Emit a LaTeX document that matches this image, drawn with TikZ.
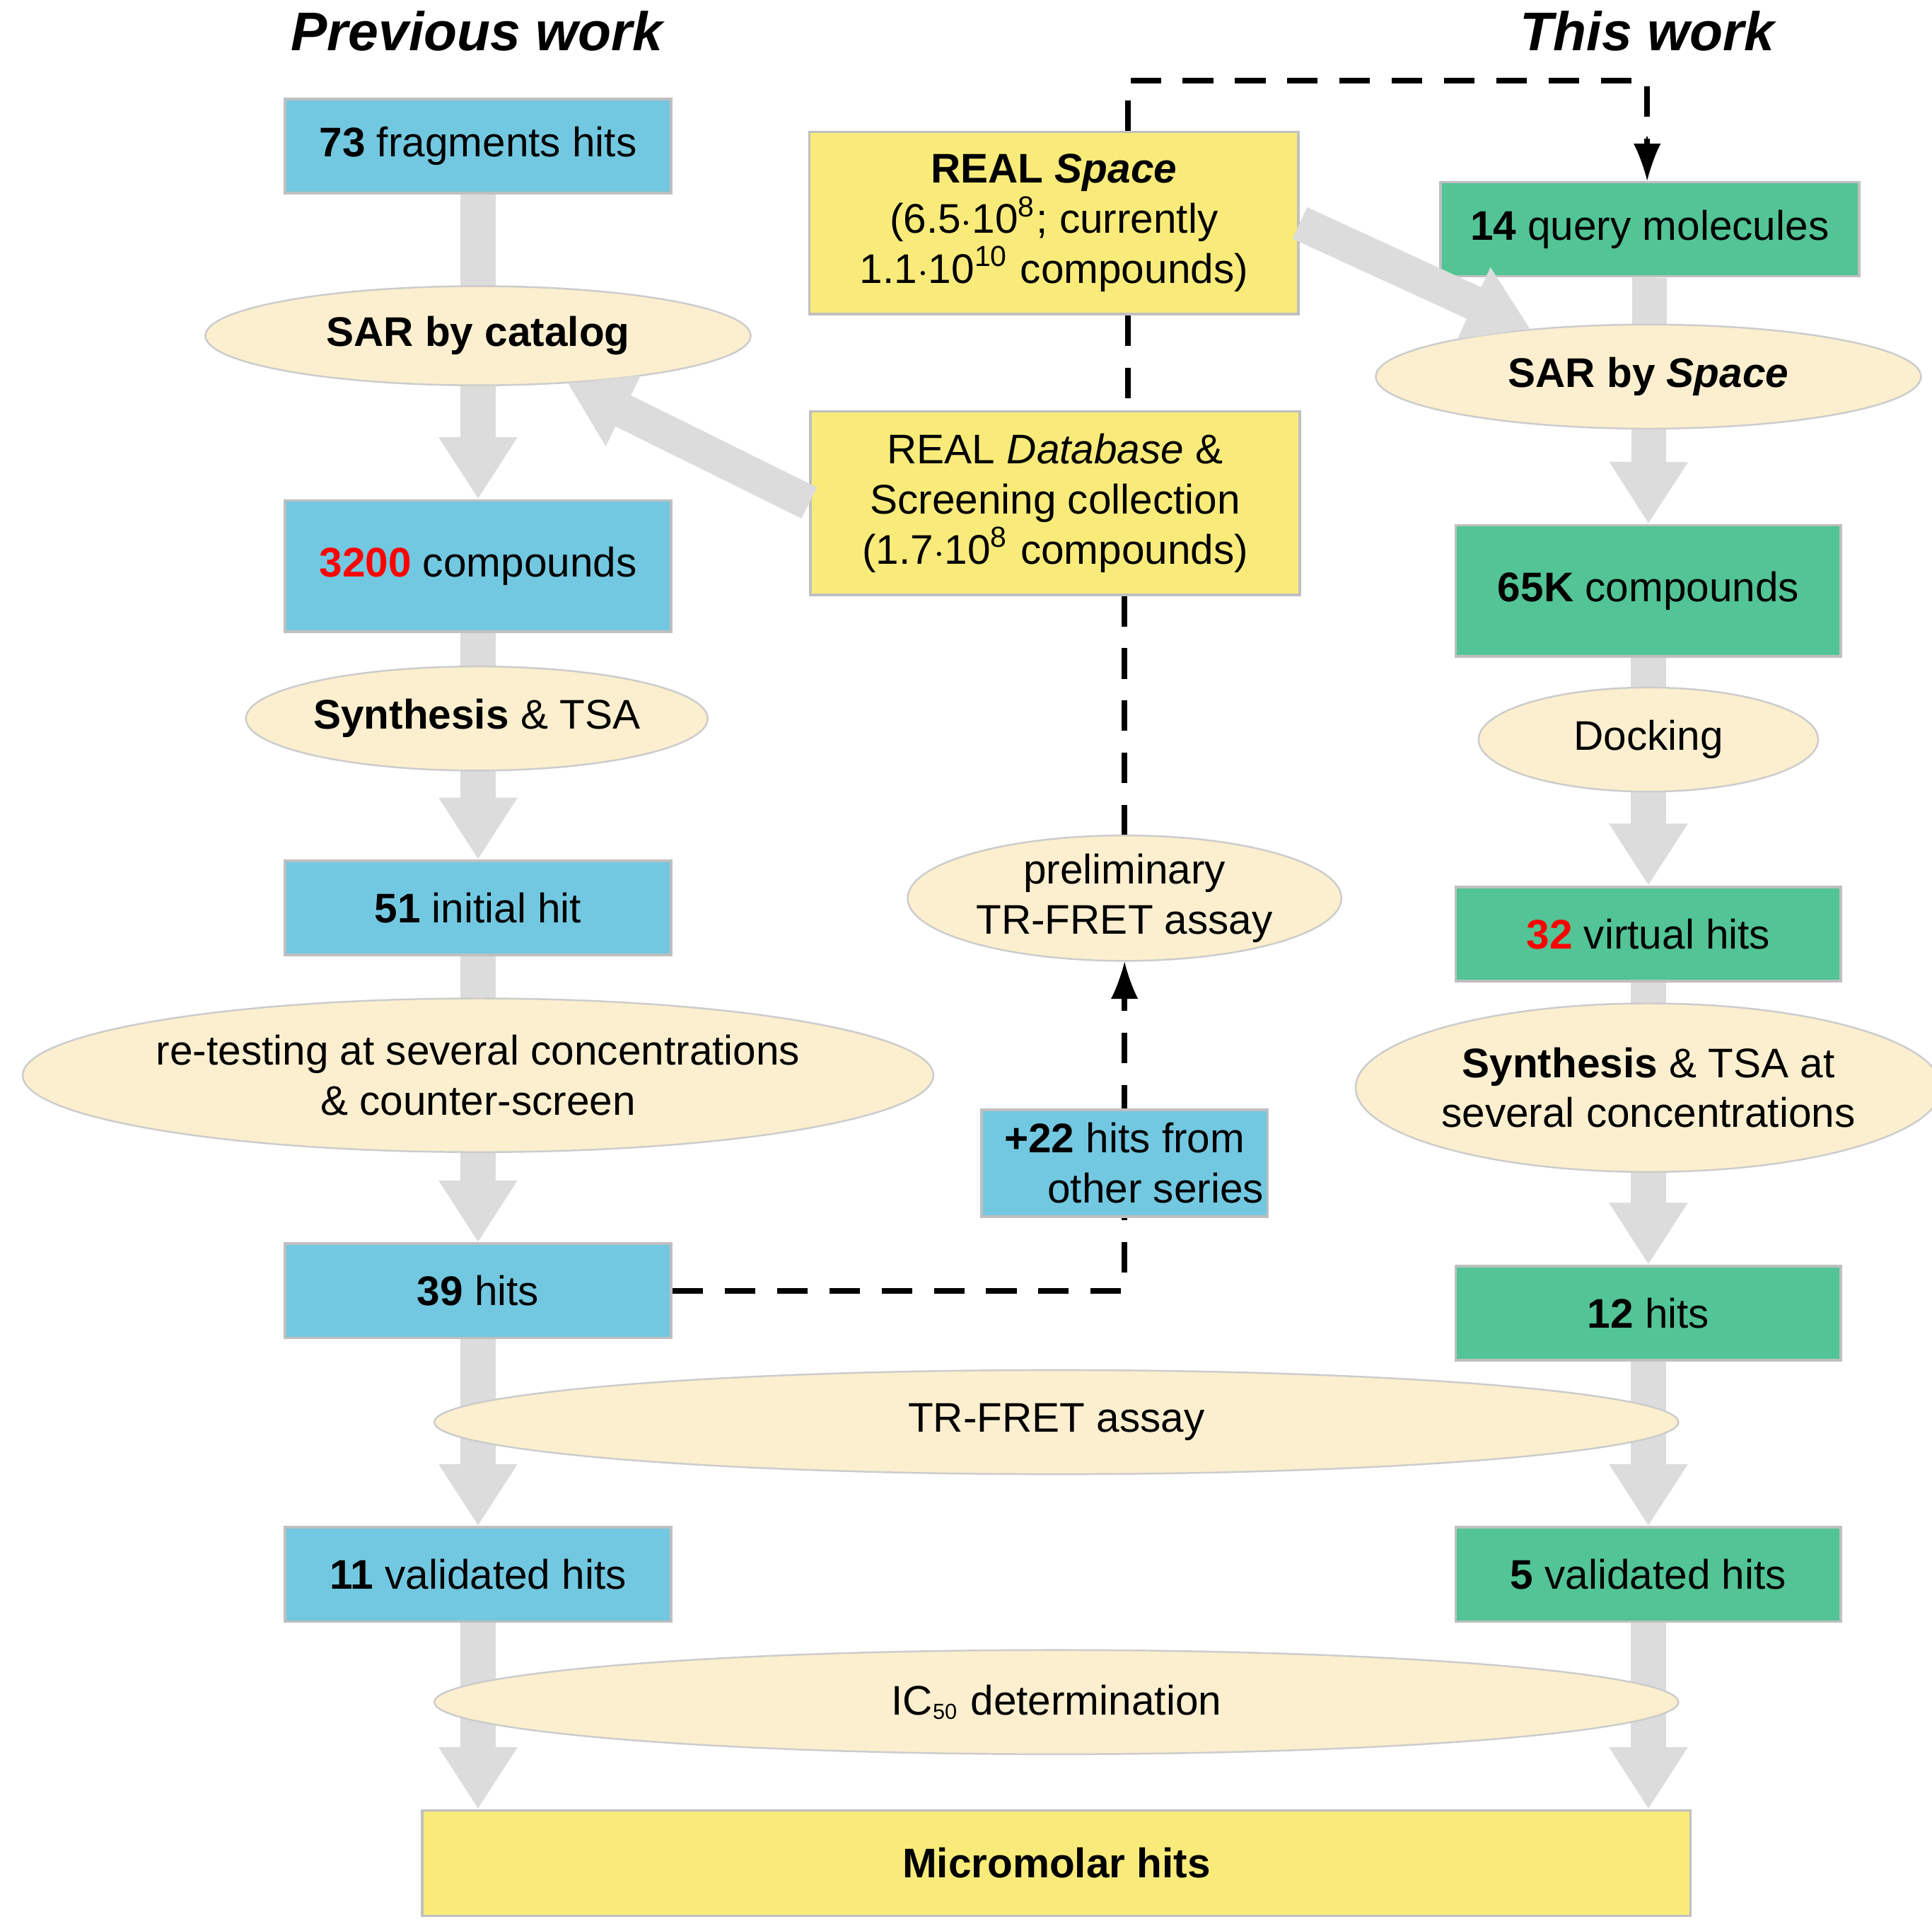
\documentclass[tikz,border=0pt]{standalone}
\usepackage{fontspec}
\setmainfont{Liberation Sans}
\usetikzlibrary{arrows.meta,shapes.geometric}
\definecolor{cblue}{HTML}{72C8E0}
\definecolor{cgreen}{HTML}{52C495}
\definecolor{cyel}{HTML}{F8EB7A}
\definecolor{cell}{HTML}{FCEFCF}
\definecolor{carr}{HTML}{DCDCDC}
\begin{document}
\begin{tikzpicture}[x=0.01cm,y=-0.01cm,
 box/.style={draw=black!25,line width=0.6pt,minimum width=#1*0.01cm,inner sep=0pt,align=center,font=\fontsize{9.5}{11.5}\selectfont},
 bb/.style={box=312,fill=cblue,minimum height=0.76cm},
 gb/.style={box=311,fill=cgreen,minimum height=0.76cm},
 el/.style={ellipse,draw=black!20,fill=cell,inner sep=0pt,align=center,font=\fontsize{9.5}{11.5}\selectfont},
 ga/.style={draw=carr,line width=0.28cm,-{Triangle[width=0.6cm,length=0.5cm]}},
 da/.style={draw=black,line width=1.3pt,dash pattern=on 7pt off 5pt}]
\useasboundingbox (0,0) rectangle (1560,1553);
\node[font=\fontsize{12.5}{14}\selectfont\bfseries\itshape] (hp) at (385,25) {Previous work};
\node[font=\fontsize{12.5}{14}\selectfont\bfseries\itshape] (ht) at (1330,25) {This work};
% left boxes
\node[bb] (l1) at (386,118) {\textbf{73} fragments hits};
\node[bb,minimum height=1.06cm] (l2) at (386,457) {\textcolor{red}{\textbf{3200}} compounds};
\node[bb] (l3) at (386,733) {\textbf{51} initial hit};
\node[bb] (l4) at (386,1042) {\textbf{39} hits};
\node[bb] (l5) at (386,1271) {\textbf{11} validated hits};
% right boxes
\node[box=338,fill=cgreen,minimum height=0.76cm] (r1) at (1332,185) {\textbf{14} query molecules};
\node[gb,minimum height=1.06cm] (r2) at (1331,477) {\textbf{65K} compounds};
\node[gb] (r3) at (1331,754) {\textcolor{red}{\textbf{32}} virtual hits};
\node[gb] (r4) at (1331,1060) {\textbf{12} hits};
\node[gb] (r5) at (1331,1271) {\textbf{5} validated hits};
% yellow
\node[box=395,fill=cyel,minimum height=1.47cm] (rs) at (851,180) {\textbf{REAL \textit{Space}}\\(6.5$\cdot$10\textsuperscript{8}; currently\\1.1$\cdot$10\textsuperscript{10} compounds)};
\node[box=395,fill=cyel,minimum height=1.48cm] (rdb) at (852,406) {REAL \textit{Database} \&\\Screening collection\\(1.7$\cdot$10\textsuperscript{8} compounds)};
\node[box=1024,fill=cyel,minimum height=0.85cm] (mm) at (853,1504) {\textbf{Micromolar hits}};
% gray arrows
\draw[ga] (l1.south) -- (l2.north);
\draw[ga] (l2.south) -- (l3.north);
\draw[ga] (l3.south) -- (l4.north);
\draw[ga] (l4.south) -- (l5.north);
\draw[ga] (l5.south) -- (l5.south|-mm.north);
\draw[ga] (r1.south) -- (r2.north);
\draw[ga] (r2.south) -- (r3.north);
\draw[ga] (r3.south) -- (r4.north);
\draw[ga] (r4.south) -- (r5.north);
\draw[ga] (r5.south) -- (r5.south|-mm.north);
% dashed
\coordinate (d1) at (911,65);
\coordinate (d2) at (1330,65);
\draw[da] (rs.north-|d1) -- (d1) -- (d2) -- (d2|-r1.north);
\draw[black,-{Latex[length=0.3cm,width=0.22cm]}] (1330,110) -- (d2|-r1.north);
\draw[da] (rs.south-|d1) -- (rdb.north-|d1);
\node[el,minimum width=3.5cm,minimum height=1.0cm] (pt) at (908,725) {preliminary\\TR-FRET assay};
\coordinate (d3) at (908,1042);
\draw[da] (rdb.south-|pt) -- (pt.north);
\draw[da] (l4.east) -- (d3) -- (pt.south|-d3) -- (908,800);
\draw[black,-{Latex[length=0.3cm,width=0.22cm]}] (908,815) -- (pt.south);
\node[box=231,fill=cblue,minimum height=0.86cm] (h22) at (908,939) {\textbf{+22} hits from\\\hspace*{1.5em}other series};
% ellipses
\node[el,minimum width=4.4cm,minimum height=0.8cm] (sbc) at (386,271) {\textbf{SAR by catalog}};
\node[el,minimum width=3.52cm,minimum height=0.84cm] (syn) at (385,580) {\textbf{Synthesis} \& TSA};
\node[el,minimum width=7.3cm,minimum height=1.24cm] (ret) at (386,868) {re-testing at several concentrations\\\& counter-screen};
\node[el,minimum width=10.04cm,minimum height=0.84cm] (tr) at (853,1148) {TR-FRET assay};
\node[el,minimum width=10.04cm,minimum height=0.84cm] (ic) at (853,1374) {IC\textsubscript{\tiny 50} determination};
\node[el,minimum width=4.4cm,minimum height=0.84cm] (sbs) at (1331,304) {\textbf{SAR by \textit{Space}}};
\node[el,minimum width=2.74cm,minimum height=0.84cm] (dock) at (1331,597) {Docking};
\node[el,minimum width=4.4cm,minimum height=1.36cm] (syn2) at (1331,878) {\textbf{Synthesis} \& TSA at\\several concentrations};
% diagonal arrows
\draw[ga] (rs.east) -- (sbs.158);
\draw[ga] (rdb.west) -- (sbc.-28);
\end{tikzpicture}
\end{document}
